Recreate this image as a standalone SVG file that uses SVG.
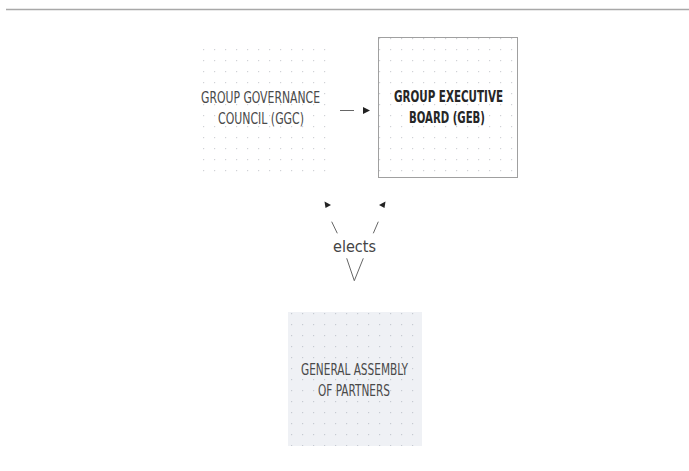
<svg xmlns="http://www.w3.org/2000/svg" width="689" height="471" viewBox="0 0 689 471">
  <defs>
    <pattern id="dots" x="0" y="0" width="11" height="11" patternUnits="userSpaceOnUse">
      <rect x="5" y="5" width="1.2" height="1.2" fill="#d0d2d6"/>
    </pattern>
    <pattern id="dotsBlue" x="0" y="0" width="11" height="11" patternUnits="userSpaceOnUse">
      <rect x="5" y="5" width="1.2" height="1.2" fill="#c6cad2"/>
    </pattern>
  </defs>
  <style>
    .lbl { font-family: "DejaVu Sans Condensed", "Liberation Sans", sans-serif; font-size: 15.5px; fill: #4a4a4a; }
    .lbl.strong { fill: #262626; font-weight: bold; }
    .conn { stroke: #666; stroke-width: 1; fill: none; }
    .head { fill: #222; }
  </style>

  <rect width="689" height="471" fill="#ffffff"/>
  <line x1="6" y1="9.5" x2="689" y2="9.5" stroke="#a8a8a8" stroke-width="1.5"/>

  <g id="ggc">
    <rect x="196" y="42" width="130" height="131" fill="url(#dots)"/>
    <text class="lbl" x="201" y="103" textLength="119" lengthAdjust="spacingAndGlyphs">GROUP GOVERNANCE</text>
    <text class="lbl" x="218" y="123.5" textLength="86" lengthAdjust="spacingAndGlyphs">COUNCIL (GGC)</text>
  </g>

  <g id="geb">
    <rect x="378.5" y="37.5" width="139" height="140" fill="url(#dots)" stroke="#a0a0a0" stroke-width="1"/>
    <text class="lbl strong" x="394" y="101.5" textLength="109" lengthAdjust="spacingAndGlyphs">GROUP EXECUTIVE</text>
    <text class="lbl strong" x="409" y="122.5" textLength="76" lengthAdjust="spacingAndGlyphs">BOARD (GEB)</text>
  </g>

  <g id="ga">
    <rect x="288" y="312" width="134" height="134" fill="#eff1f5"/>
    <rect x="288" y="312" width="134" height="134" fill="url(#dotsBlue)"/>
    <text class="lbl" x="301" y="374.5" textLength="107" lengthAdjust="spacingAndGlyphs">GENERAL ASSEMBLY</text>
    <text class="lbl" x="318" y="395.5" textLength="72" lengthAdjust="spacingAndGlyphs">OF PARTNERS</text>
  </g>

  <g id="connectors">
    <line class="conn" x1="340" y1="110.5" x2="354" y2="110.5"/>
    <path class="head" d="M363,107 L370,110.5 L363,114 Z"/>
    <line class="conn" x1="331.7" y1="221.7" x2="337.3" y2="233.3"/>
    <line class="conn" x1="378.3" y1="221.7" x2="373.3" y2="233.3"/>
    <path class="head" d="M324.5,201.5 L331,205 L325.5,208 Z"/>
    <path class="head" d="M385.5,201.5 L379,205 L384.5,208 Z"/>
    <polyline class="conn" points="346.7,258.3 354.3,280.7 363.3,258.3"/>
    <text x="333" y="252" font-family="DejaVu Sans Condensed, Liberation Sans, sans-serif" font-size="15" fill="#444" textLength="43" lengthAdjust="spacingAndGlyphs">elects</text>
  </g>
</svg>
